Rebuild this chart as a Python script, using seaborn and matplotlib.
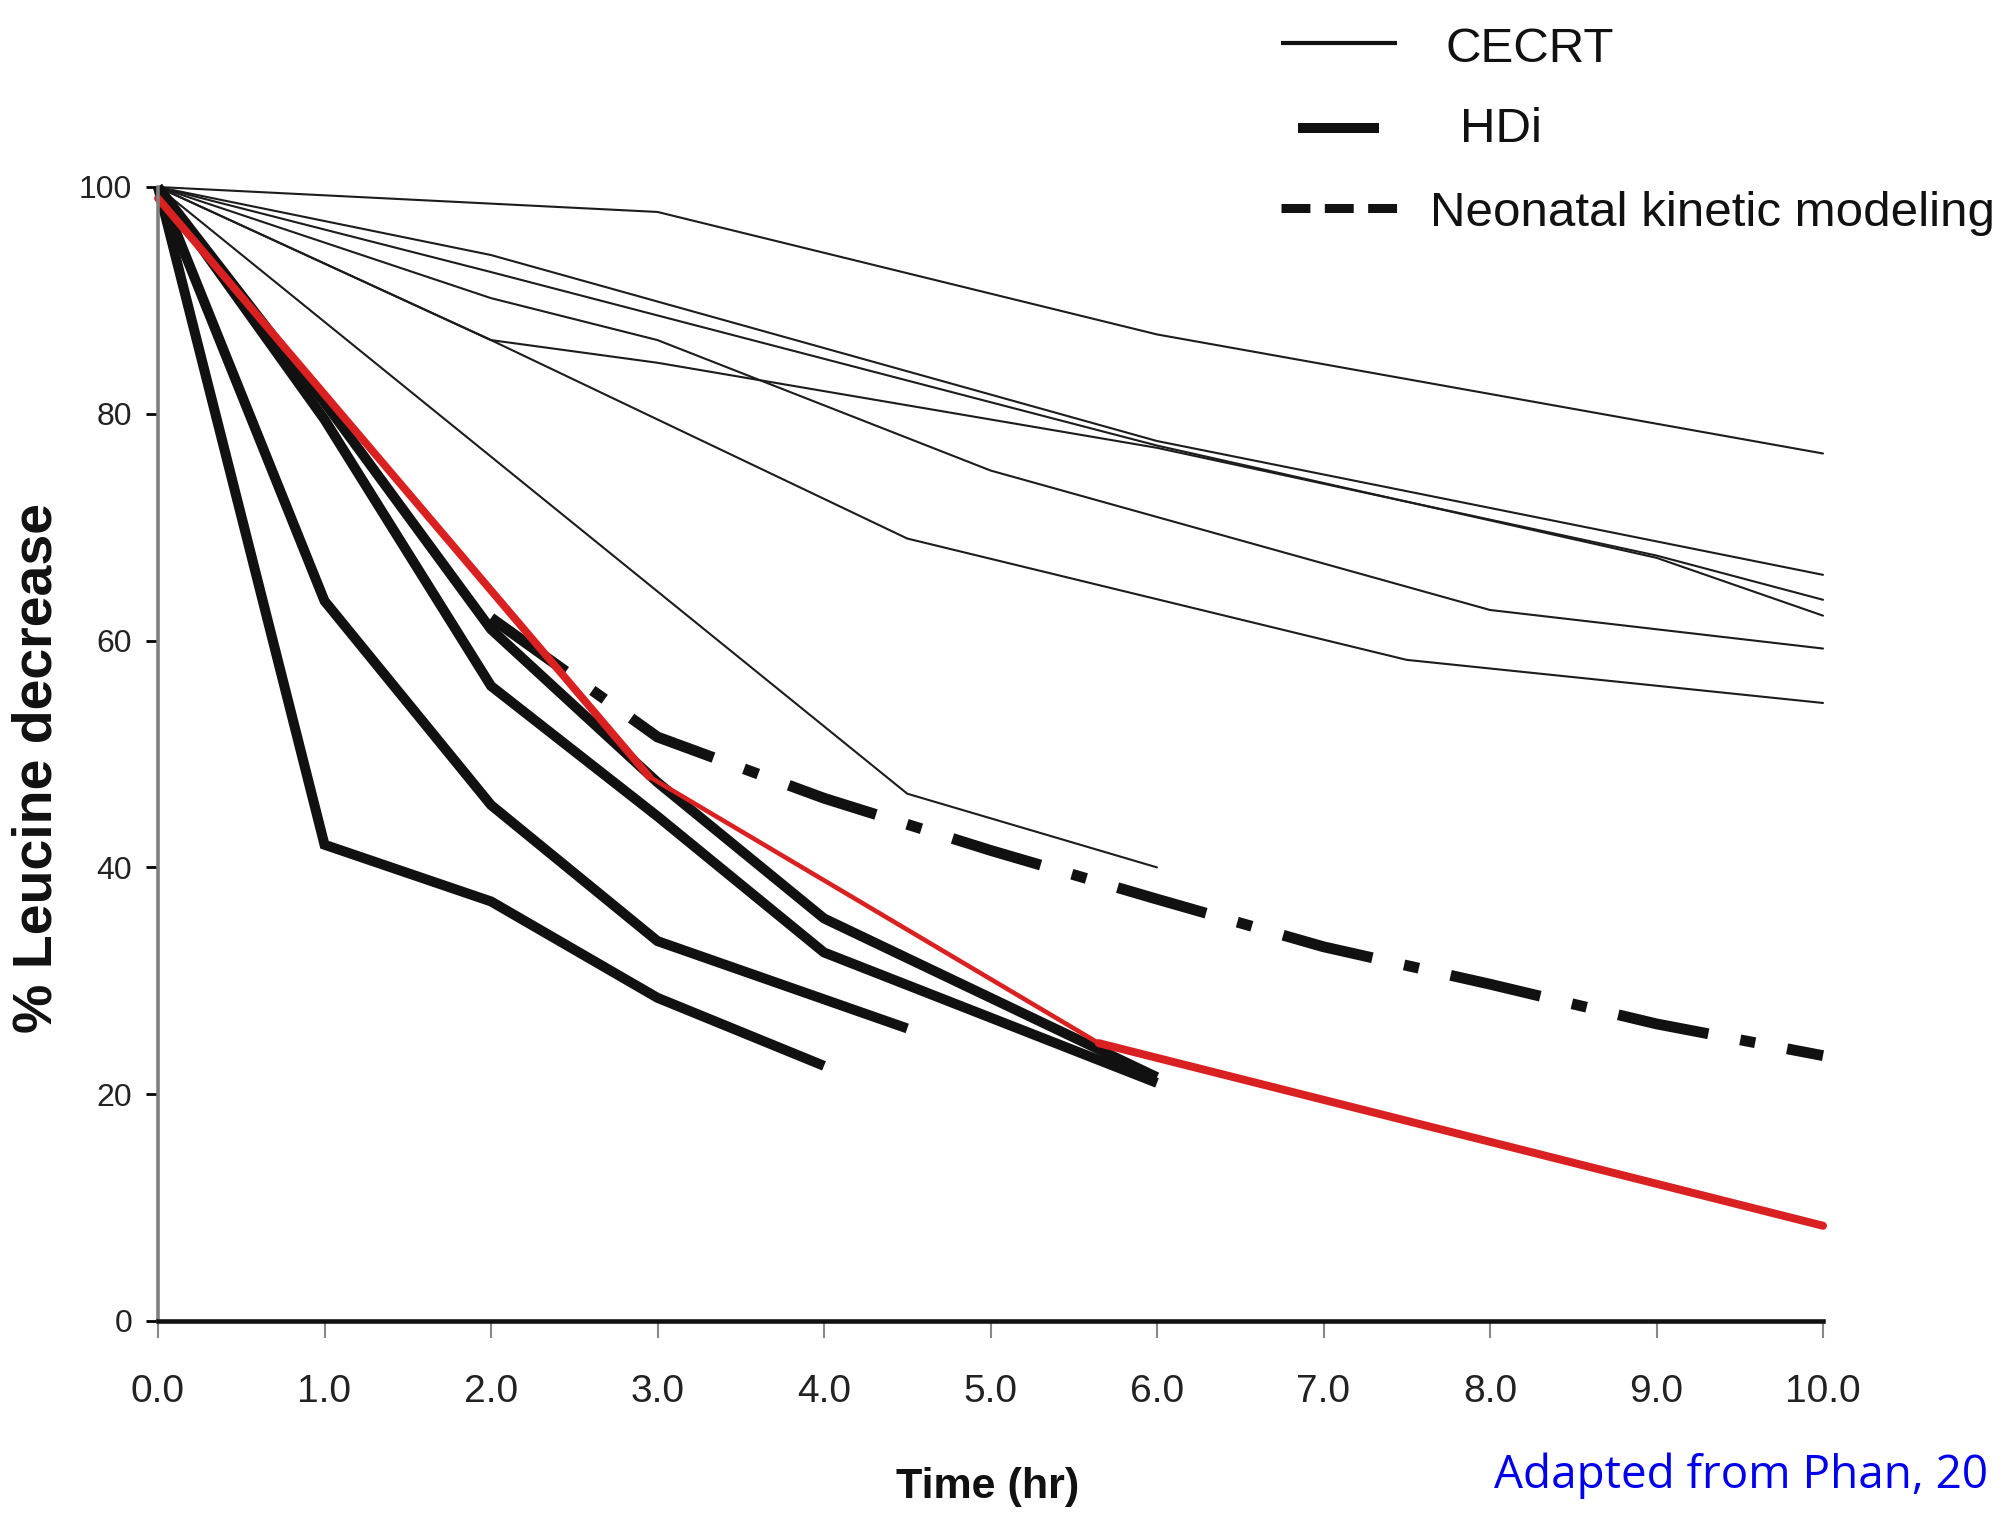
import numpy as np
import pandas as pd
import matplotlib
matplotlib.use("Agg")
import matplotlib.pyplot as plt
import seaborn as sns
from matplotlib.lines import Line2D

# ---------------- data ----------------
# CECRT (thin lines)
cecrt_t1 = [0, 3, 6, 10];                 cecrt_v1 = [100, 97.8, 87.0, 76.5]
cecrt_t2 = [0, 2, 6, 10];                 cecrt_v2 = [100, 94.0, 77.6, 65.8]
cecrt_t3 = [0, 2, 6, 9, 10];              cecrt_v3 = [100, 92.5, 77.2, 67.3, 62.2]
cecrt_t4 = [0, 2, 3, 6, 9, 10];           cecrt_v4 = [100, 86.5, 84.5, 77.0, 67.5, 63.6]
cecrt_t5 = [0, 2, 3, 5, 8, 10];           cecrt_v5 = [100, 90.2, 86.5, 75.0, 62.7, 59.3]
cecrt_t6 = [0, 2, 4.5, 7.5, 10];          cecrt_v6 = [100, 86.5, 69.0, 58.3, 54.5]
cecrt_t7 = [0, 4.5, 6];                   cecrt_v7 = [100, 46.5, 40.0]

# HDi (thick lines)
hdi_t1 = [0, 1, 2, 3, 4];                 hdi_v1 = [100, 42.0, 37.0, 28.5, 22.5]
hdi_t2 = [0, 1, 2, 3, 4.5];               hdi_v2 = [100, 63.5, 45.5, 33.5, 25.8]
hdi_t3 = [0, 1, 2, 3, 4, 6];              hdi_v3 = [100, 79.5, 56.0, 44.5, 32.5, 21.0]
hdi_t4 = [0, 1, 2, 3, 4, 6];              hdi_v4 = [100, 81.0, 61.0, 47.5, 35.5, 21.5]

# Neonatal kinetic modeling (dash-dot)
neo_t = [2, 3, 4, 5, 6, 7, 8, 9, 10]
neo_v = [62.0, 51.5, 46.1, 41.5, 37.2, 33.0, 29.7, 26.2, 23.4]

# Red overlay line
red_t = [0, 2.95, 5.65, 10]
red_v = [99.0, 48.0, 24.5, 8.4]

x_ticks = [0, 1, 2, 3, 4, 5, 6, 7, 8, 9, 10]
x_ticklabels = ["0.0", "1.0", "2.0", "3.0", "4.0", "5.0", "6.0", "7.0", "8.0", "9.0", "10.0"]
y_ticks = [0, 20, 40, 60, 80, 100]
y_ticklabels = ["0", "20", "40", "60", "80", "100"]

legend_labels = ["CECRT", "HDi", "Neonatal kinetic modeling"]
x_label = "Time (hr)"
y_label = "% Leucine decrease"
source_text = "Adapted from Phan, 20"

# ---------------- figure ----------------
sns.set_theme(style="white")
SANS = ["Liberation Sans", "DejaVu Sans"]
plt.rcParams["font.family"] = SANS

W, H = 2006, 1524
fig = plt.figure(figsize=(W / 100, H / 100), dpi=100)
fig.patch.set_facecolor("white")

def fx(px):
    return px / W

def fy(py):
    return 1 - py / H

ax_l, ax_r, ax_t, ax_b = 158, 1823, 187, 1321
ax = fig.add_axes([fx(ax_l), fy(ax_b), (ax_r - ax_l) / W, (ax_b - ax_t) / H])
ax.set_facecolor("white")

thin = [(cecrt_t1, cecrt_v1), (cecrt_t2, cecrt_v2), (cecrt_t3, cecrt_v3),
        (cecrt_t4, cecrt_v4), (cecrt_t5, cecrt_v5), (cecrt_t6, cecrt_v6),
        (cecrt_t7, cecrt_v7)]
thick = [(hdi_t1, hdi_v1), (hdi_t2, hdi_v2), (hdi_t3, hdi_v3), (hdi_t4, hdi_v4)]

for t, v in thin:
    sns.lineplot(x=t, y=v, ax=ax, color="#1c1c1c", linewidth=1.5,
                 estimator=None, sort=False, legend=False)
for t, v in thick:
    sns.lineplot(x=t, y=v, ax=ax, color="#111111", linewidth=7.2,
                 estimator=None, sort=False, legend=False,
                 solid_capstyle="butt", solid_joinstyle="miter")

sns.lineplot(x=neo_t, y=neo_v, ax=ax, color="#111111", linewidth=7.8,
             estimator=None, sort=False, legend=False,
             linestyle=(0, (8.5, 3.0, 1.4, 3.0)), dash_capstyle="butt")

red_w = [5.6, 3.3, 5.8]
for i in range(len(red_t) - 1):
    sns.lineplot(x=red_t[i:i + 2], y=red_v[i:i + 2], ax=ax, color="#d92121",
                 linewidth=red_w[i], estimator=None, sort=False, legend=False,
                 solid_capstyle="round")

for ln in ax.lines:
    ln.set_clip_on(False)

ax.set_xlim(0, 10)
ax.set_ylim(0, 100)
ax.set_xticks(x_ticks)
ax.set_xticklabels(x_ticklabels)
ax.set_yticks(y_ticks)
ax.set_yticklabels(y_ticklabels)

ax.tick_params(axis="y", left=True, length=8.6, width=2.0, color="black",
               direction="out", pad=10, labelsize=23, labelcolor="#222222")
ax.tick_params(axis="x", bottom=True, length=12, width=1.5, color="#888888",
               direction="out", pad=26, labelsize=28, labelcolor="#222222")

for s in ["top", "right"]:
    ax.spines[s].set_visible(False)
ax.spines["left"].set_color("#7f7f7f")
ax.spines["left"].set_linewidth(2.6)
ax.spines["bottom"].set_color("#111111")
ax.spines["bottom"].set_linewidth(3.3)
ax.grid(False)

ax.set_xlabel(x_label, fontsize=31, fontweight="bold", color="#111111")
ax.xaxis.label.set(va="center", ha="center")
ax.xaxis.set_label_coords((988 - ax_l) / (ax_r - ax_l), (ax_b - 1487) / (ax_b - ax_t))

ax.set_ylabel(y_label, fontsize=40, fontweight="bold", color="#111111")
ax.yaxis.label.set(va="center", ha="center", rotation_mode="default")
ax.yaxis.set_label_coords((38 - ax_l) / (ax_r - ax_l), (ax_b - 768) / (ax_b - ax_t))

# ---------------- legend (drawn in figure space) ----------------
leg_lines = [
    dict(x=(1281, 1397), y=43, lw=3.0, ls="-"),
    dict(x=(1298, 1379), y=128, lw=7.2, ls="-"),
    dict(x=(1281, 1397), y=208, lw=6.5, ls=(0, (3.2, 1.6))),
]
leg_text = [(1446, 62), (1460, 142), (1430, 226)]
for spec, lab, (tx, ty) in zip(leg_lines, legend_labels, leg_text):
    fig.add_artist(Line2D([fx(spec["x"][0]), fx(spec["x"][1])], [fy(spec["y"]), fy(spec["y"])],
                          transform=fig.transFigure, color="#111111", lw=spec["lw"],
                          linestyle=spec["ls"], solid_capstyle="butt", dash_capstyle="butt"))
    fig.text(fx(tx), fy(ty), lab, fontsize=35.5, color="#111111", ha="left", va="baseline")

fig.text(fx(1494), fy(1488), source_text, fontsize=33, color="#0000ee",
         ha="left", va="baseline", family=["Open Sans", "DejaVu Sans"])

fig.savefig("out.png", dpi=100, facecolor="white")
